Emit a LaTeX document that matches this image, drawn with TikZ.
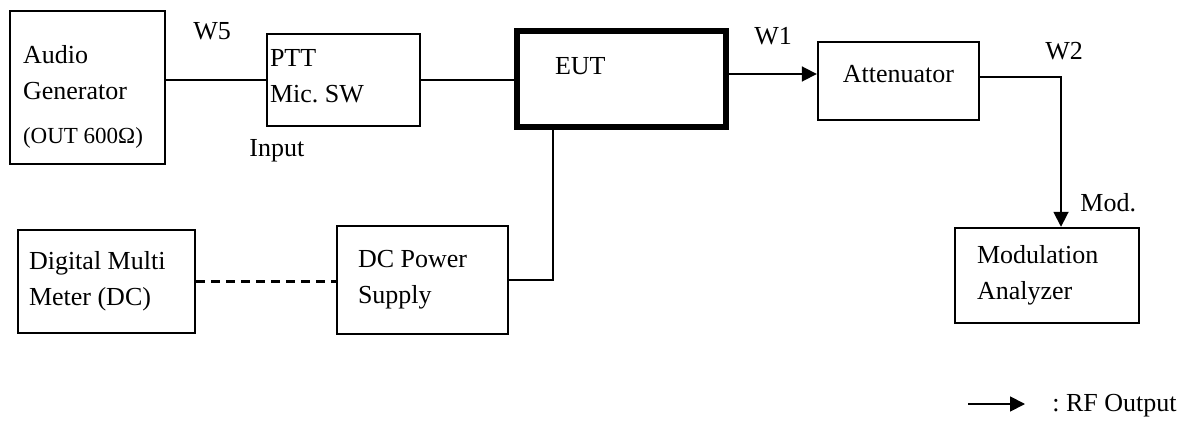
\documentclass[tikz,border=0pt]{standalone}
\usepackage{fontspec}
\setmainfont{Liberation Serif}
\usepackage{tikz}
\usetikzlibrary{positioning, arrows.meta, calc}

\begin{document}
\frenchspacing
\begin{tikzpicture}[x=0.5pt, y=-0.5pt,
    box/.style={draw, line width=1.2pt, inner sep=0pt, align=flush left,
                font=\fontsize{13}{18}\selectfont},
    eutbox/.style={box, line width=2.8pt},
    conn/.style={line width=0.9pt},
    rfarrow/.style={conn, -{Triangle[length=7.5pt, width=7.5pt]}},
    lbl/.style={anchor=base west, inner sep=0pt, font=\fontsize{13}{16}\selectfont}]
    \useasboundingbox (0,0) rectangle (1187,422);

    \node[box, minimum width=77.5pt, minimum height=76.5pt, text width=64.5pt,
          text height=18.5pt] (audiogen) at (87.5,87.5)
          {Audio\\Generator\\[4pt]{\fontsize{11.5}{14}\selectfont (OUT 600Ω)}};
    \node[box, minimum width=76.5pt, minimum height=46pt, text width=73.5pt,
          text depth=22pt] (ptt) at (343.5,80) {PTT\\Mic. SW};
    \node[eutbox, minimum width=104.5pt, minimum height=48pt, text width=66.5pt,
          text depth=13pt] (eut) at (621.5,79) {EUT};
    \node[box, minimum width=80.5pt, minimum height=39pt, align=center,
          text depth=7pt] (atten) at (898.5,81) {Attenuator};
    \node[box, minimum width=88.5pt, minimum height=51.5pt, text width=77.5pt]
          (dmm) at (106.5,281.5) {Digital Multi\\Meter (DC)};
    \node[box, minimum width=85.5pt, minimum height=54pt, text width=64.5pt]
          (dcps) at (422.5,280) {DC Power\\Supply};
    \node[box, minimum width=92pt, minimum height=47.5pt, text width=70pt]
          (modan) at (1047,275.5) {Modulation\\Analyzer};

    \node[lbl] (w5) at (193,40) {W5};
    \node[lbl] (input) at (249,157) {Input};
    \node[lbl] (w1) at (754,44.5) {W1};
    \node[lbl] (w2) at (1045,60) {W2};
    \node[lbl] (mod) at (1080,212) {Mod.};
    \node[lbl] (rfout) at (1052,411) {: RF Output};

    \coordinate (w1in) at ([yshift=3.5pt]atten.west);
    \coordinate (w2out) at ([yshift=2pt]atten.east);
    \coordinate (modin) at ([xshift=7pt]modan.north);
    \coordinate (dcin) at ([xshift=-34.25pt]eut.south);
    \coordinate (lgstart) at (968,404);
    \coordinate (lgend) at (1025,404);

    \draw[conn] (ptt.west -| audiogen.east) -- (ptt.west);
    \draw[conn] (ptt.east) -- (ptt.east -| eut.west);
    \draw[rfarrow] (w1in -| eut.east) -- (w1in);
    \draw[rfarrow] (w2out) -- (w2out -| modin) -- (modin);
    \draw[conn] (dcps.east) -- (dcps.east -| dcin) -- (dcin);
    \draw[conn, line width=1.1pt, dash pattern=on 4.5pt off 3pt] (dmm.east) -- (dmm.east -| dcps.west);
    \draw[rfarrow] (lgstart) -- (lgend);
\end{tikzpicture}
\end{document}
